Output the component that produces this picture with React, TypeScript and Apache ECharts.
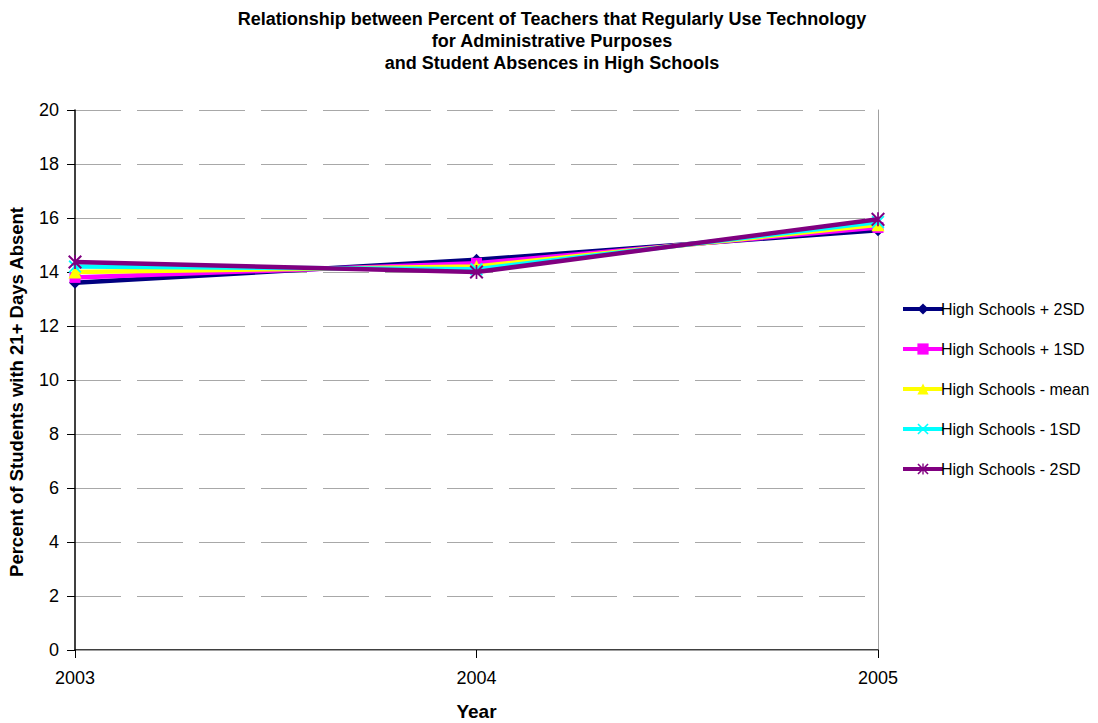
import React, { useEffect, useRef } from "react";
import * as echarts from "echarts";

const years = ["2003", "2004", "2005"];
const seriesNames = [
  "High Schools + 2SD",
  "High Schools + 1SD",
  "High Schools - mean",
  "High Schools - 1SD",
  "High Schools - 2SD",
];
const plus2SD = [13.6, 14.45, 15.55];
const plus1SD = [13.8, 14.32, 15.65];
const meanVals = [14.0, 14.2, 15.75];
const minus1SD = [14.2, 14.1, 15.85];
const minus2SD = [14.37, 14.0, 15.95];
const colors = ["#000080", "#FF00FF", "#FFFF00", "#00FFFF", "#800080"];

const X_PATH =
  "path://M0,1 L1,0 L5,4 L9,0 L10,1 L6,5 L10,9 L9,10 L5,6 L1,10 L0,9 L4,5 Z";
const STAR_PATH =
  "path://M0,1 L1,0 L5,4 L9,0 L10,1 L6,5 L10,9 L9,10 L5,6 L1,10 L0,9 L4,5 Z M4.4,0 L5.6,0 L5.6,10 L4.4,10 Z";

const symbols = ["diamond", "rect", "triangle", X_PATH, STAR_PATH];
const symbolSizes = [12, 11, 13, 13, 14];

export default function App() {
  const ref = useRef<HTMLDivElement>(null);
  useEffect(() => {
    document.body.style.margin = "0";
    const chart = echarts.init(ref.current!, undefined, { renderer: "svg" });
    const data = [plus2SD, plus1SD, meanVals, minus1SD, minus2SD];
    const font = "'Liberation Sans', Arial, sans-serif";
    chart.setOption({
      animation: false,
      backgroundColor: "#ffffff",
      textStyle: { fontFamily: font },
      title: {
        text:
          "Relationship between Percent of Teachers that Regularly Use Technology\nfor Administrative Purposes\nand Student Absences in High Schools",
        left: 547,
        textAlign: "center",
        top: 3,
        textStyle: {
          fontFamily: font,
          fontSize: 18,
          fontWeight: "bold",
          lineHeight: 22,
          color: "#000",
        },
      },
      graphic: [
        {
          type: "text",
          x: 16,
          y: 392,
          rotation: Math.PI / 2,
          style: {
            text: "Percent of Students with 21+ Days Absent",
            fontFamily: font,
            fontSize: 18.5,
            fontWeight: "bold",
            fill: "#000",
            align: "center",
            verticalAlign: "middle",
          },
        },
      ],
      legend: {
        orient: "vertical",
        left: 896,
        top: 296,
        itemWidth: 40,
        itemHeight: 14,
        itemGap: 24,
        lineStyle: { width: 4 },
        textStyle: { fontFamily: font, fontSize: 16, color: "#000", padding: [0, 0, 0, -7] },
        data: seriesNames,
      },
      grid: { left: 75, right: 220, top: 110, bottom: 73, containLabel: false, outerBoundsMode: "none" },
      xAxis: [
        {
          type: "category",
          data: years,
          boundaryGap: false,
          name: "Year",
          nameLocation: "middle",
          nameGap: 52,
          nameTextStyle: { fontFamily: font, fontSize: 19, fontWeight: "bold", color: "#000" },
          axisLine: { lineStyle: { color: "#000", width: 1.5 } },
          axisTick: { show: true, length: 8, lineStyle: { color: "#000" } },
          axisLabel: { fontFamily: font, fontSize: 18, color: "#000", margin: 19 },
          splitLine: { show: false },
        },
        {
          type: "category",
          data: years,
          boundaryGap: false,
          position: "top",
          axisLine: { lineStyle: { color: "#a0a0a0", width: 1 } },
          axisTick: { show: false },
          axisLabel: { show: false },
        },
      ],
      yAxis: [
        {
          type: "value",
          min: 0,
          max: 20,
          interval: 2,
          axisLine: { show: true, lineStyle: { color: "#000", width: 1.5 } },
          axisTick: { show: true, length: 8, lineStyle: { color: "#000" } },
          axisLabel: { fontFamily: font, fontSize: 18, color: "#000", margin: 16 },
          splitLine: {
            show: true,
            lineStyle: { color: "#a8a8a8", width: 1, type: [46, 16] },
          },
        },
        {
          type: "value",
          min: 0,
          max: 20,
          interval: 2,
          position: "right",
          axisLine: { show: true, lineStyle: { color: "#a0a0a0", width: 1 } },
          axisTick: { show: false },
          axisLabel: { show: false },
          splitLine: { show: false },
        },
      ],
      series: seriesNames.map((name, i) => ({
        name,
        type: "line",
        data: data[i],
        symbol: symbols[i],
        symbolSize: symbolSizes[i],
        showSymbol: true,
        lineStyle: { color: colors[i], width: 4.5 },
        itemStyle: { color: colors[i], borderWidth: 0 },
        emphasis: { disabled: true },
        z: 2 + i,
      })),
    });
    return () => chart.dispose();
  }, []);
  return <div ref={ref} style={{ width: 1098, height: 723 }} />;
}
